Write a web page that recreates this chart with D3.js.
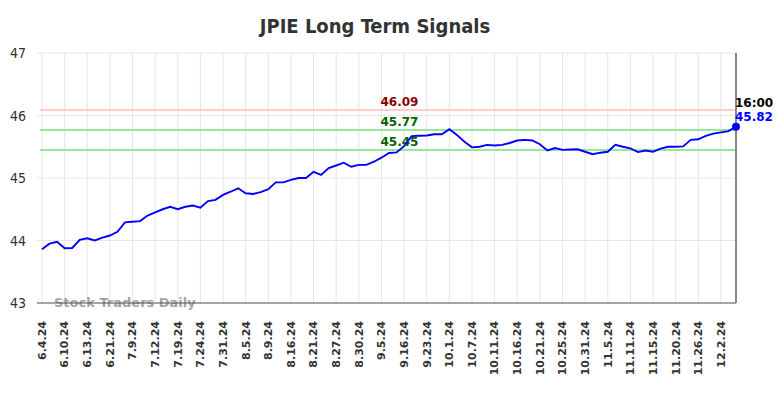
<!DOCTYPE html>
<html lang="en">
<head>
<meta charset="UTF-8">
<title>JPIE Long Term Signals</title>
<script src="https://d3js.org/d3.v7.min.js"></script>
<style>
  body { margin: 0; background: #fff; }
  svg { display: block; }
  .title { font-family: "DejaVu Sans Condensed", "DejaVu Sans", sans-serif; font-stretch: condensed; font-weight: bold; font-size: 20px; fill: #333; }
  .ylab { font-family: "DejaVu Sans Condensed", "DejaVu Sans", sans-serif; font-stretch: condensed; font-size: 14px; fill: #333; }
  .xlab { font-family: "DejaVu Sans", sans-serif; font-weight: bold; font-size: 11px; fill: #333; }
  .sig { font-family: "DejaVu Sans", sans-serif; font-weight: bold; font-size: 12px; }
</style>
</head>
<body>
<svg width="784" height="398"></svg>
<script>
// closing prices, one per trading day
var prices = [
  43.86, 43.95, 43.98, 43.875, 43.88, 44.01, 44.035, 44.00, 44.045, 44.08,
  44.14, 44.29, 44.30, 44.31, 44.40, 44.45, 44.50, 44.54, 44.50, 44.54,
  44.56, 44.525, 44.63, 44.65, 44.73, 44.78, 44.835, 44.755, 44.745, 44.775,
  44.82, 44.93, 44.93, 44.97, 45.00, 45.00, 45.10, 45.05, 45.16, 45.20,
  45.245, 45.18, 45.21, 45.21, 45.26, 45.325, 45.40, 45.41, 45.51, 45.67,
  45.675, 45.68, 45.70, 45.70, 45.78, 45.69, 45.58, 45.49, 45.50, 45.53,
  45.52, 45.53, 45.56, 45.60, 45.61, 45.60, 45.54, 45.44, 45.48, 45.45,
  45.455, 45.46, 45.42, 45.38, 45.405, 45.42, 45.53, 45.50, 45.475, 45.415,
  45.44, 45.42, 45.47, 45.50, 45.50, 45.505, 45.61, 45.62, 45.675, 45.71,
  45.73, 45.75, 45.82
];

// one label every 3 points
var dateLabels = ["6.4.24","6.10.24","6.13.24","6.21.24","7.9.24","7.12.24","7.19.24","7.24.24",
  "7.31.24","8.5.24","8.9.24","8.16.24","8.21.24","8.27.24","8.30.24","9.5.24","9.16.24",
  "9.23.24","10.1.24","10.7.24","10.11.24","10.16.24","10.21.24","10.25.24","10.31.24",
  "11.5.24","11.11.24","11.15.24","11.20.24","11.26.24","12.2.24"];

var yTicks = [43, 44, 45, 46, 47];

var signals = [
  { value: 46.09, line: "#ffcccc", text: "#8b0000" },
  { value: 45.77, line: "#99e699", text: "#006400" },
  { value: 45.45, line: "#99e699", text: "#006400" }
];

var lastTime = "16:00";

var svg = d3.select("svg");
var pLeft = 42, pRight = 736, pTop = 53, pBottom = 303;

var x = d3.scaleLinear().domain([0, prices.length - 1]).range([pLeft, pRight]);
var y = d3.scaleLinear().domain([43, 47]).range([pBottom, pTop]);

svg.append("text").attr("class", "title")
  .attr("x", 375).attr("y", 33).attr("text-anchor", "middle")
  .text("JPIE Long Term Signals");

// horizontal grid
svg.selectAll(".hgrid").data(yTicks).enter().append("line")
  .attr("x1", 37).attr("x2", pRight)
  .attr("y1", d => y(d)).attr("y2", d => y(d))
  .attr("stroke", "#e6e6e6").attr("stroke-width", 1);

svg.selectAll(".ylab").data(yTicks).enter().append("text")
  .attr("class", "ylab")
  .attr("x", 26).attr("y", d => y(d) + 5).attr("text-anchor", "end")
  .text(d => d);

// vertical grid + date labels
svg.selectAll(".vgrid").data(dateLabels).enter().append("line")
  .attr("x1", (d, i) => x(i * 3)).attr("x2", (d, i) => x(i * 3))
  .attr("y1", pTop).attr("y2", pBottom)
  .attr("stroke", "#e6e6e6").attr("stroke-width", 1);

svg.selectAll(".xlab").data(dateLabels).enter().append("text")
  .attr("class", "xlab")
  .attr("transform", (d, i) => "translate(" + x(i * 3) + ",321) rotate(-90)")
  .attr("dy", "0.35em").attr("text-anchor", "end")
  .text(d => d);

// signal lines
signals.forEach(function(s) {
  svg.append("line")
    .attr("x1", pLeft - 2).attr("x2", pRight)
    .attr("y1", y(s.value)).attr("y2", y(s.value))
    .attr("stroke", s.line).attr("stroke-width", 2);
});
signals.forEach(function(s) {
  svg.append("text").attr("class", "sig")
    .attr("x", x(45) - 1).attr("y", y(s.value) - 4)
    .attr("fill", s.text)
    .text(s.value.toFixed(2));
});

// watermark
svg.append("text")
  .attr("x", 54).attr("y", 307)
  .attr("font-family", "DejaVu Sans, sans-serif").attr("font-weight", "bold")
  .attr("font-size", "13px").attr("fill", "#999").attr("fill-opacity", 0.9)
  .text("Stock Traders Daily");

// axes lines
svg.append("line").attr("x1", 37).attr("x2", pRight).attr("y1", pBottom).attr("y2", pBottom)
  .attr("stroke", "#555").attr("stroke-width", 1);
svg.append("line").attr("x1", pRight).attr("x2", pRight).attr("y1", pTop).attr("y2", pBottom)
  .attr("stroke", "#888").attr("stroke-width", 2);

// price line
var line = d3.line().x((d, i) => x(i)).y(d => y(d));
svg.append("path").datum(prices)
  .attr("d", line).attr("fill", "none")
  .attr("stroke", "#0000ff").attr("stroke-width", 1.9);

var last = prices[prices.length - 1];
svg.append("circle")
  .attr("cx", x(prices.length - 1)).attr("cy", y(last)).attr("r", 4)
  .attr("fill", "#0000ff");

svg.append("text").attr("class", "sig")
  .attr("x", pRight - 1).attr("y", y(last) - 20)
  .attr("font-size", "11px").attr("fill", "#000")
  .text(lastTime);
svg.append("text").attr("class", "sig")
  .attr("x", pRight - 1).attr("y", y(last) - 6)
  .attr("font-size", "11px").attr("fill", "#0000ff")
  .text(last.toFixed(2));
</script>
</body>
</html>
